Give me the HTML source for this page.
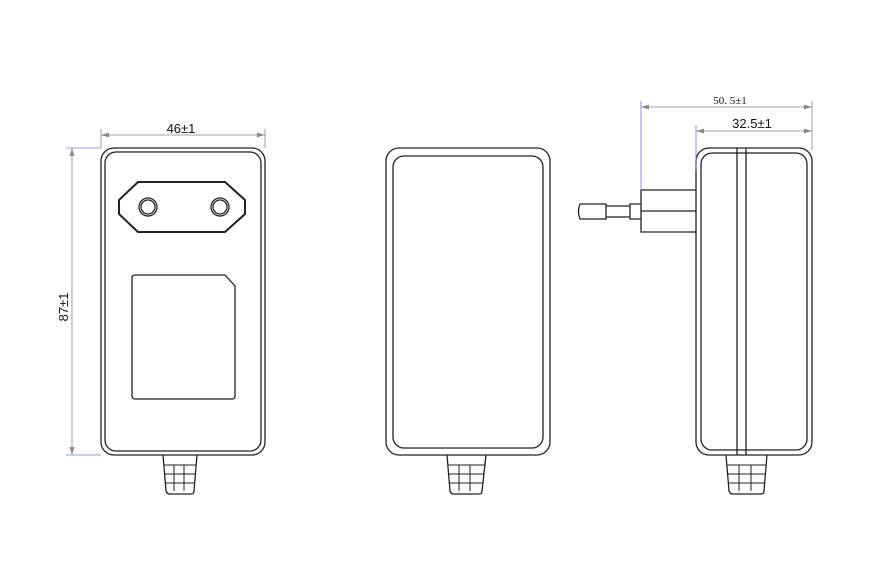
<!DOCTYPE html><html><head><style>body{margin:0;background:#fff}svg{display:block}</style></head><body>
<svg width="876" height="572" viewBox="0 0 876 572" xmlns="http://www.w3.org/2000/svg" font-family="Liberation Sans, sans-serif">
<defs><marker id="a" viewBox="0 0 10 6" refX="10" refY="3" markerWidth="10" markerHeight="6" orient="auto-start-reverse"><path d="M0,0L10,3L0,6z" fill="#888"/></marker></defs>
<g stroke="#222" fill="none" stroke-width="1.3">
<!-- front -->
<rect x="101" y="148" width="164" height="307" rx="13"/>
<rect x="105" y="152" width="156" height="299" rx="11"/>
<path d="M138,182H225L245,200V214L225,232H138L119,214V200Z" stroke-width="2"/>
<circle cx="148" cy="207" r="9"/><circle cx="148" cy="207" r="7"/>
<circle cx="220" cy="207" r="9"/><circle cx="220" cy="207" r="7"/>
<path d="M135,275H225L235,286V396Q235,399 232,399H135Q132,399 132,396V278Q132,275 135,275Z"/>
<path d="M163,455L166,491Q167,494 170,494H191Q194,494 194,491L197,455"/>
<path d="M164,465H196M165,474H195M166,483H194M174,465V491M184,465V491" stroke-width="1"/>
<!-- middle -->
<rect x="386" y="148" width="164" height="307" rx="13"/>
<rect x="393" y="156" width="150" height="292" rx="11"/>
<path d="M447,455L450,491Q451,494 454,494H479Q482,494 482,491L486,455"/>
<path d="M448,465H485M449,474H484M450,483H483M459,465V491M470,465V491" stroke-width="1"/>
<!-- side -->
<rect x="696" y="148" width="116" height="307" rx="13"/>
<rect x="701" y="153" width="106" height="297" rx="11"/>
<path d="M737,148V455M746,148V455"/>
<path d="M696,190H641V232H696M641,211H696"/>
<path d="M641,204H630V219H641M630,206H606V217H630M606,204H580Q577,211 580,219H606Z"/>
<path d="M726,455L729,491Q730,494 733,494H761Q764,494 764,491L767,455"/>
<path d="M727,465H766M728,474H765M729,483H764M739,465V491M751,465V491" stroke-width="1"/>
</g>
<g stroke="#888" stroke-width="0.8" fill="none">
<path d="M101,135H265" marker-start="url(#a)" marker-end="url(#a)"/>
<path d="M101,129V148M265,129V148"/>
<path d="M72,148V455" marker-start="url(#a)" marker-end="url(#a)"/>
<path d="M641,107H812" marker-start="url(#a)" marker-end="url(#a)"/>
<path d="M696,131H812" marker-start="url(#a)" marker-end="url(#a)"/>
<path d="M812,101V150"/>
</g>
<g stroke="#7777ee" stroke-width="0.8"><path d="M66,148H101M66,455H101M641,101V190M696,125V170"/></g>
<g fill="#111" font-size="13" text-anchor="middle">
<text x="181" y="133">46±1</text>
<text x="752" y="128">32.5±1</text>
<text x="730" y="104" font-size="11" font-family="Liberation Serif, serif">50. 5±1</text>
<text transform="translate(68,307) rotate(-90)">87±1</text>
</g>
</svg></body></html>
